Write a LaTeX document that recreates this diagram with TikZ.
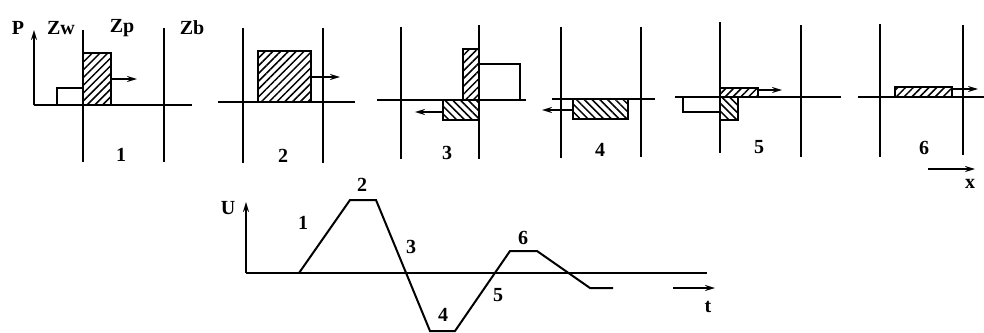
\documentclass[tikz,border=0pt]{standalone}
\usepackage{fontspec}
\setmainfont{Liberation Serif}
\usetikzlibrary{arrows.meta,patterns.meta}
\begin{document}
\begin{tikzpicture}[x=1pt,y=-1pt,
  ln/.style={line width=2pt},
  hne/.style={draw,line width=2pt,pattern={Lines[angle=45,distance=5.5pt,line width=1.5pt]}},
  hnw/.style={draw,line width=2pt,pattern={Lines[angle=-45,distance=5.5pt,line width=1.5pt]}},
  arr/.style={line width=1.8pt,-{Stealth[length=10pt,width=6pt]}},
  lbl/.style={font=\fontsize{20}{20}\selectfont\bfseries, inner sep=0pt}
]
\useasboundingbox (0,0) rectangle (984,332);
% ---------- panel 1
\coordinate (p1o) at (34,105);
\coordinate (p1t) at (34,30);
\draw[arr] (p1o) -- (p1t);
\draw[ln] (p1o) -- (192,105);
\draw[ln] (83,30) -- (83,162);
\draw[ln] (164,28) -- (164,162);
\draw[ln] (57,105) -- (57,88) -- (83,88);
\draw[hne] (83,53) rectangle (111,105);
\draw[arr] (111,79) -- (137,79);
\node[lbl] (lP) at (18,28) {P};
\node[lbl] (lZw) at (61,28) {Zw};
\node[lbl] (lZp) at (122,28) {Zp};
\node[lbl] (lZb) at (192,28) {Zb};
\node[lbl] (n1) at (121,155) {1};
% ---------- panel 2
\draw[ln] (243,28) -- (243,163);
\draw[ln] (323,28) -- (323,163);
\draw[ln] (218,102) -- (355,102);
\draw[hne] (258,51) rectangle (311,102);
\draw[arr] (311,77) -- (340,77);
\node[lbl] (n2) at (283,156) {2};
% ---------- panel 3
\draw[ln] (401,27) -- (401,159);
\draw[ln] (479,25) -- (479,159);
\draw[ln] (377,100) -- (526,100);
\draw[hne] (463,49) rectangle (479,100);
\draw[ln] (479,64) -- (520,64) -- (520,100);
\draw[hnw] (443,100) rectangle (479,120);
\draw[arr] (443,112) -- (415,112);
\node[lbl] (n3) at (447,153) {3};
% ---------- panel 4
\draw[ln] (561,27) -- (561,158);
\draw[ln] (641,27) -- (641,157);
\draw[ln] (552,99) -- (655,99);
\draw[hnw] (573,99) rectangle (628,119);
\draw[arr] (573,110) -- (542,110);
\node[lbl] (n4) at (600,150) {4};
% ---------- panel 5
\draw[ln] (720,22) -- (720,153);
\draw[ln] (801,25) -- (801,157);
\draw[ln] (675,97) -- (841,97);
\draw[ln] (720,112) -- (683,112) -- (683,97);
\draw[hne] (720,88) rectangle (758,97);
\draw[hnw] (720,97) rectangle (738,120);
\draw[arr] (758,90) -- (782,90);
\node[lbl] (n5) at (759,147) {5};
% ---------- panel 6
\draw[ln] (880,24) -- (880,157);
\draw[ln] (963,25) -- (963,155);
\draw[ln] (858,97) -- (984,97);
\draw[hne] (895,87) rectangle (952,97);
\draw[arr] (952,89) -- (978,89);
\node[lbl] (n6) at (924,148) {6};
\coordinate (xa) at (928,169);
\coordinate (xb) at (975,169);
\draw[arr] (xa) -- (xb);
\node[lbl] (lx) at (970,184) {x};
% ---------- U(t) graph
\coordinate (uo) at (246,273);
\coordinate (ut) at (246,202);
\draw[arr] (uo) -- (ut);
\draw[ln] (uo) -- (707,273);
\draw[ln,line join=miter] (299,273) -- (350,200) -- (376,200) -- (430,331) -- (455,331)
  -- (510,251) -- (537,251) -- (590,288) -- (613,288);
\coordinate (ta) at (673,288);
\coordinate (tb) at (715,288);
\draw[arr] (ta) -- (tb);
\node[lbl] (lt) at (708,307) {t};
\node[lbl] (lU) at (228,208) {U};
\node[lbl] (c1) at (303,223) {1};
\node[lbl] (c2) at (362,185) {2};
\node[lbl] (c3) at (411,247) {3};
\node[lbl] (c4) at (443,315) {4};
\node[lbl] (c5) at (498,295) {5};
\node[lbl] (c6) at (523,238) {6};
\end{tikzpicture}
\end{document}
